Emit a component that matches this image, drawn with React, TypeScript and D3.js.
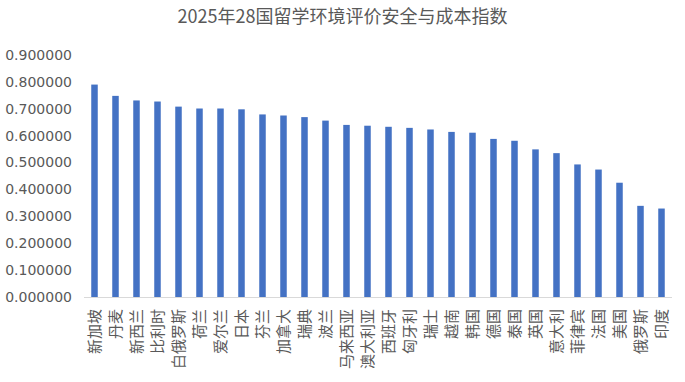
import React from "react";
import * as d3 from "d3";

const countries = ["新加坡","丹麦","新西兰","比利时","白俄罗斯","荷兰","爱尔兰","日本","芬兰","加拿大","瑞典","波兰","马来西亚","澳大利亚","西班牙","匈牙利","瑞士","越南","韩国","德国","泰国","英国","意大利","菲律宾","法国","美国","俄罗斯","印度"];
const values = [0.790,0.748,0.731,0.727,0.708,0.701,0.701,0.698,0.679,0.675,0.669,0.656,0.640,0.637,0.633,0.629,0.623,0.614,0.611,0.588,0.581,0.549,0.535,0.493,0.474,0.425,0.339,0.329];
const yTicks = [0,0.1,0.2,0.3,0.4,0.5,0.6,0.7,0.8,0.9];
const title = "2025年28国留学环境评价安全与成本指数";

const W = 685, H = 382;
const margin = { left: 84, right: 13, top: 55, bottom: 85 };

export default function App() {
  const x = d3.scaleBand<string>().domain(countries).range([margin.left, W - margin.right]).paddingInner(0.69).paddingOuter(0.345);
  const y = d3.scaleLinear().domain([0, 0.9]).range([H - margin.bottom, margin.top]);
  const fmt = d3.format(".6f");
  return (
    <svg width={W} height={H} style={{ position: "absolute", left: 0, top: 0, background: "#fff" }}>
      <text x={W / 2} y={23} textAnchor="middle" fontSize={18} fill="#595959" fontFamily="'Noto Sans CJK SC', 'Liberation Sans', sans-serif">{title}</text>
      {yTicks.map(t => (
        <text key={t} x={72} y={y(t)} dy="0.35em" textAnchor="end" fontSize={14} fill="#595959" fontFamily="'DejaVu Sans', sans-serif">{fmt(t)}</text>
      ))}
      {countries.map((c, i) => (
        <rect key={c} x={x(c)} y={y(values[i])} width={x.bandwidth()} height={y(0) - y(values[i])} fill="#4472C4" />
      ))}
      <line x1={margin.left} x2={W - margin.right} y1={y(0) + 0.5} y2={y(0) + 0.5} stroke="#d9d9d9" strokeWidth={1} />
      {countries.map(c => {
        const cx = (x(c) as number) + x.bandwidth() / 2;
        const ty = y(0) + 12;
        return (
          <text key={c} transform={`translate(${cx},${ty}) rotate(-90)`} textAnchor="end" dy="0.35em" fontSize={15} fill="#595959" fontFamily="'Noto Sans CJK SC', sans-serif">{c}</text>
        );
      })}
    </svg>
  );
}
